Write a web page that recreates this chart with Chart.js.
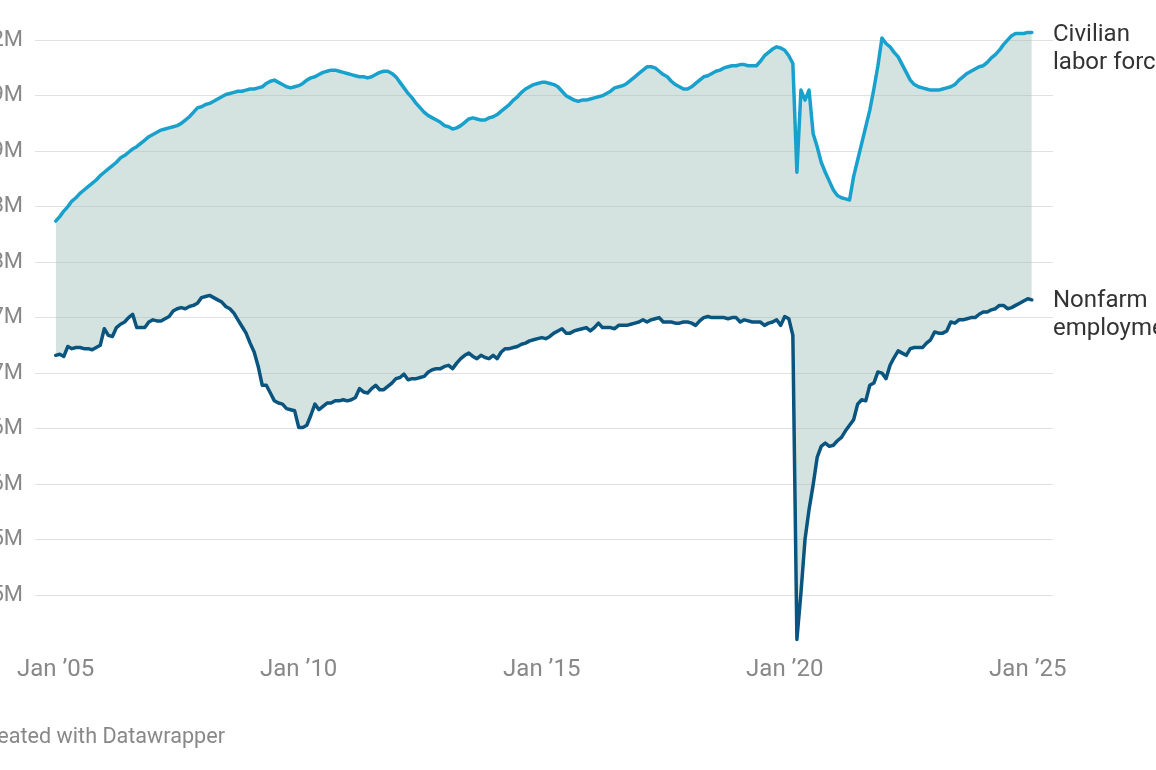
<!DOCTYPE html>
<html>
<head>
<meta charset="utf-8">
<script src="https://cdn.jsdelivr.net/npm/chart.js@4"></script>
<style>
html,body{margin:0;padding:0;background:#fff;overflow:hidden;width:1156px;height:770px;position:relative;font-family:Roboto,sans-serif;}
#c{position:absolute;left:0;top:0;}
.lab{position:absolute;left:1053px;font-size:24px;line-height:28px;color:#333;white-space:nowrap;}
#l1{top:19px;}
#l2{top:285px;}
#foot{position:absolute;right:931px;top:724px;font-size:21.6px;line-height:24px;color:#888;white-space:nowrap;}
</style>
</head>
<body>
<canvas id="c" width="1156" height="770"></canvas>
<div class="lab" id="l1">Civilian<br>labor force</div>
<div class="lab" id="l2">Nonfarm<br>employment</div>
<div id="foot">Created with Datawrapper</div>
<script>
// Monthly data, Jan 2005 – Feb 2025, in thousands
const startMonth = "2005-01";
const laborForce = [
1837,1841,1846,1850,1855,1858,1862,1865,1868,1871,1874,1878,
1881,1884,1887,1890,1894,1896,1899,1902,1904,1907,1910,1913,
1915,1917,1919,1920,1921,1922,1923,1925,1928,1931,1935,1939,
1940,1942,1943,1945,1947,1949,1951,1952,1953,1954,1954,1955,
1956,1956,1957,1958,1961,1963,1964,1962,1960,1958,1957,1958,
1959,1961,1964,1966,1967,1969,1971,1972,1973,1973,1972,1971,
1970,1969,1968,1967,1967,1966,1967,1969,1971,1972,1972,1970,
1967,1962,1957,1952,1948,1943,1939,1935,1932,1930,1928,1926,
1923,1922,1920,1921,1923,1926,1929,1930,1929,1928,1928,1930,
1931,1933,1936,1939,1942,1946,1949,1953,1956,1958,1960,1961,
1962,1962,1961,1960,1958,1954,1950,1948,1946,1945,1946,1946,
1947,1948,1949,1950,1952,1954,1957,1958,1959,1961,1964,1967,
1970,1973,1976,1976,1975,1972,1969,1967,1963,1960,1958,1956,
1956,1958,1961,1964,1967,1968,1970,1972,1973,1975,1976,1977,
1977,1978,1978,1977,1977,1977,1981,1986,1989,1992,1994,1993,
1991,1986,1979,1881,1955,1946,1955,1916,1904,1890,1881,1873,
1865,1860,1858,1857,1856,1877,1892,1907,1922,1937,1956,1977,
2002,1997,1994,1989,1985,1978,1971,1964,1960,1958,1957,1956,
1955,1955,1955,1956,1957,1958,1960,1964,1967,1970,1972,1974,
1976,1977,1980,1984,1987,1991,1996,2000,2004,2006,2006,2006,
2007,2007
];
const nonfarmEmployment = [
1716,1717,1715,1724,1722,1723,1723,1722,1722,1721,1723,1725,
1740,1734,1733,1741,1744,1746,1750,1753,1741,1741,1741,1746,
1748,1747,1747,1749,1751,1756,1758,1759,1758,1760,1761,1763,
1768,1769,1770,1768,1766,1764,1760,1758,1754,1748,1742,1736,
1727,1719,1706,1689,1689,1682,1675,1673,1672,1668,1667,1666,
1651,1651,1653,1662,1672,1667,1670,1673,1673,1675,1675,1676,
1675,1676,1678,1686,1683,1682,1686,1689,1685,1685,1688,1691,
1695,1696,1699,1694,1695,1695,1696,1697,1701,1703,1704,1704,
1706,1707,1704,1709,1713,1716,1718,1715,1713,1716,1714,1713,
1716,1713,1719,1722,1722,1723,1724,1726,1727,1729,1730,1731,
1732,1731,1733,1736,1738,1740,1736,1736,1738,1739,1740,1741,
1738,1741,1745,1741,1741,1741,1740,1743,1743,1743,1744,1745,
1746,1748,1746,1748,1749,1750,1746,1746,1746,1745,1745,1746,
1746,1745,1743,1747,1750,1751,1750,1750,1750,1750,1749,1750,
1750,1746,1748,1747,1746,1746,1746,1743,1745,1746,1748,1743,
1751,1749,1734,1460,1502,1550,1577,1599,1624,1634,1637,1634,
1635,1639,1642,1648,1653,1658,1672,1676,1675,1689,1691,1701,
1700,1695,1707,1714,1720,1718,1716,1722,1723,1723,1723,1727,
1730,1737,1736,1736,1738,1746,1745,1748,1748,1749,1750,1750,
1753,1755,1755,1757,1758,1761,1761,1758,1759,1761,1763,1765,
1767,1766
];
const xTickMonths = [0, 60, 120, 180, 240];
const xTickLabels = ["Jan \u201905", "Jan \u201910", "Jan \u201915", "Jan \u201920", "Jan \u201925"];
const yTickValues = [2000, 1950, 1900, 1850, 1800, 1750, 1700, 1650, 1600, 1550, 1500];
const yTickLabels = ["2M", "1.9M", "1.9M", "1.8M", "1.8M", "1.7M", "1.7M", "1.6M", "1.6M", "1.5M", "1.5M"];

const toPts = arr => arr.map((v, i) => ({x: i, y: v}));

new Chart(document.getElementById('c'), {
  type: 'line',
  data: {
    datasets: [
      {
        label: 'Civilian labor force',
        data: toPts(laborForce),
        borderColor: '#18a1cd',
        borderWidth: 3.5,
        pointRadius: 0,
        tension: 0,
        borderJoinStyle: 'round',
        borderCapStyle: 'round',
        fill: '+1',
        backgroundColor: 'rgba(160,194,187,0.45)'
      },
      {
        label: 'Nonfarm employment',
        data: toPts(nonfarmEmployment),
        borderColor: '#09557f',
        borderWidth: 3.5,
        pointRadius: 0,
        tension: 0,
        borderJoinStyle: 'round',
        borderCapStyle: 'round',
        fill: false
      }
    ]
  },
  options: {
    responsive: false,
    animation: false,
    devicePixelRatio: 1,
    layout: {padding: {top: 25, right: 103, bottom: 80, left: 0}},
    plugins: {
      legend: {display: false},
      tooltip: {enabled: false},
      filler: {drawTime: 'beforeDatasetsDraw'}
    },
    scales: {
      x: {
        type: 'linear',
        min: -5.11,
        max: 246.23,
        grid: {display: false},
        border: {display: false},
        afterBuildTicks: s => { s.ticks = xTickMonths.map(v => ({value: v})); },
        afterFit: s => { s.height = 40; },
        ticks: {
          autoSkip: false, maxRotation: 0, padding: -2, color: '#888',
          font: {family: 'Roboto', size: 24},
          callback: (v, i) => xTickLabels[i]
        }
      },
      y: {
        min: 1450.45,
        max: 2013.5,
        grid: {color: '#e1e1e1', lineWidth: 1, drawTicks: false},
        border: {display: false},
        afterBuildTicks: s => { s.ticks = yTickValues.map(v => ({value: v})); },
        afterFit: s => { s.width = 35; },
        ticks: {
          autoSkip: false, padding: 12, color: '#888',
          font: {family: 'Roboto', size: 22},
          callback: (v, i) => yTickLabels[i]
        }
      }
    }
  }
});
</script>
</body>
</html>
